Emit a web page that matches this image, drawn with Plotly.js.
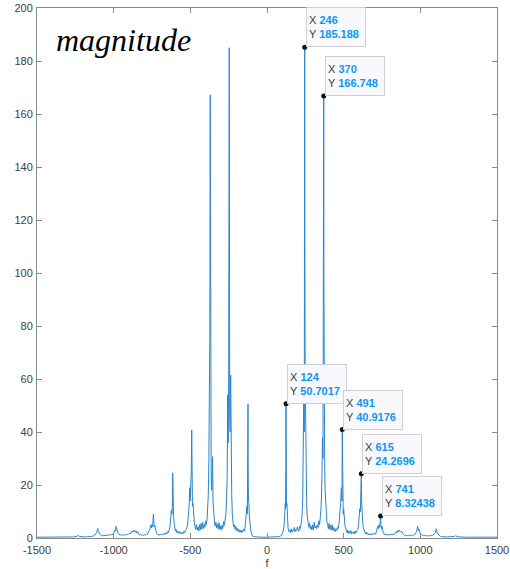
<!DOCTYPE html>
<html>
<head>
<meta charset="utf-8">
<script src="https://cdn.plot.ly/plotly-3.0.1.min.js"></script>
<style>
  html, body { margin: 0; padding: 0; background: #fff; }
  #plot { width: 510px; height: 569px; }
</style>
</head>
<body>
<div id="plot"></div>
<script>
// Two-sided magnitude spectrum |X(f)|, sampled at irregular frequencies
const freqNeg = [
  -1500, -1450, -1400, -1350, -1300, -1280, -1260, -1240, -1235, -1230, -1225, -1215, -1200, -1185,
  -1170, -1160, -1150, -1140, -1132, -1127, -1122, -1118, -1114, -1110, -1107, -1104, -1100, -1095,
  -1090, -1085, -1080, -1075, -1070, -1065, -1060, -1055, -1050, -1045, -1040, -1035, -1030, -1025,
  -1020, -1015, -1010, -1005, -1000, -996, -992, -988, -985, -982, -978, -973, -968, -963,
  -958, -953, -948, -943, -938, -933, -928, -923, -918, -913, -908, -903, -898, -893,
  -888, -883, -878, -873, -868, -863, -858, -853, -848, -843, -838, -833, -828, -823,
  -818, -813, -808, -803, -798, -793, -788, -783, -778, -773, -768, -763, -758, -754,
  -750, -746, -743, -741, -738, -735, -731, -727, -723, -718, -713, -708, -703, -698,
  -693, -688, -683, -678, -673, -668, -663, -658, -653, -648, -643, -638, -633, -628,
  -624, -620, -617, -615, -612, -609, -605, -601, -597, -592, -587, -582, -577, -572,
  -567, -562, -557, -552, -547, -542, -537, -532, -527, -522, -517, -512, -508, -504,
  -500, -497, -494, -491, -489, -486, -482, -478, -474, -470, -465, -460, -455, -450,
  -445, -440, -435, -430, -425, -420, -415, -410, -405, -400, -396, -391, -387, -383,
  -379, -376, -373, -370, -369, -367, -364, -361, -357, -355, -352, -348, -343, -338,
  -333, -328, -323, -318, -313, -308, -303, -298, -293, -288, -283, -278, -273, -268,
  -264, -260, -256, -253, -250, -247, -246, -245, -243, -240, -237, -234, -230, -226,
  -222, -218, -213, -208, -203, -198, -193, -188, -183, -178, -173, -168, -163, -158,
  -153, -148, -143, -139, -135, -131, -128, -126, -124, -123, -121, -118, -115, -111,
  -106, -100, -95, -85, -70, -50, -30, -10
];
const magNeg = [
  0.3, 0.3, 0.3, 0.3, 0.4, 0.3, 0.4, 0.6, 0.8, 1.0, 0.6, 0.5, 0.4, 0.4,
  0.5, 0.4, 0.5, 0.6, 0.8, 1.0, 1.4, 1.2, 2.0, 2.2, 2.8, 3.6, 2.4, 1.8,
  1.4, 1.1, 0.9, 1.0, 0.8, 0.9, 1.0, 0.8, 1.1, 0.9, 1.0, 1.2, 1.0, 1.3,
  1.1, 1.4, 1.2, 1.6, 1.8, 2.2, 3.0, 2.6, 4.4, 3.4, 2.6, 2.0, 1.6, 1.3,
  1.1, 1.3, 1.0, 1.2, 1.0, 1.2, 1.1, 1.3, 1.2, 1.4, 1.3, 1.6, 1.8, 1.5,
  2.0, 2.6, 2.2, 2.8, 2.4, 3.0, 2.2, 2.6, 1.8, 2.4, 1.6, 1.3, 1.1, 1.4,
  1.0, 1.2, 0.9, 1.1, 1.3, 1.0, 1.4, 1.2, 1.6, 2.0, 2.8, 3.6, 4.8, 3.8,
  5.2, 4.2, 6.0, 8.9, 6.5, 4.2, 4.8, 3.0, 2.0, 1.6, 1.2, 1.5, 1.0, 1.4,
  1.1, 1.5, 1.2, 1.6, 1.3, 1.8, 1.4, 2.0, 1.6, 2.4, 2.0, 3.0, 4.2, 7.5,
  10.5, 9.0, 12, 24.6, 13, 8, 5.5, 4.0, 2.6, 3.2, 2.0, 2.6, 1.8, 2.4,
  1.6, 2.2, 1.5, 2.0, 1.7, 2.6, 2.0, 2.8, 3.4, 4.0, 5.5, 8, 12, 19,
  14, 20, 25, 40.8, 22, 12, 13, 8, 6, 4.5, 3.2, 5.0, 3.0, 4.2,
  2.6, 5.0, 3.0, 5.5, 3.4, 6.0, 3.6, 5.2, 4.0, 6.5, 5.0, 7.0, 10, 16,
  30, 45, 76, 167.2, 110, 40, 22, 18, 24, 30.7, 14, 9, 6, 4.5,
  6.0, 3.8, 5.2, 3.4, 5.8, 3.2, 4.6, 3.0, 5.0, 3.6, 6.2, 4.8, 7.0, 9,
  14, 22, 54, 36, 60, 120, 185.0, 130, 45, 40, 61.5, 30, 16, 9,
  6, 4.2, 5.0, 3.2, 4.4, 2.8, 3.6, 2.4, 3.2, 2.2, 3.0, 2.0, 2.8, 2.2,
  3.4, 2.6, 4.0, 6, 9, 12, 9, 22, 50.5, 28, 14, 13, 8, 5,
  3, 1.5, 0.8, 0.5, 0.4, 0.3, 0.3, 0.3
];

const freqPos = [
  0, 20, 40, 60, 80, 95, 105, 112, 116, 119, 121, 123, 124, 125,
  127, 130, 133, 137, 142, 148, 153, 158, 163, 168, 173, 178, 183, 188,
  193, 198, 203, 208, 213, 218, 223, 228, 233, 237, 240, 243, 245, 246,
  247, 249, 252, 255, 259, 263, 268, 273, 278, 283, 288, 293, 298, 303,
  308, 313, 318, 323, 328, 333, 338, 343, 348, 353, 358, 362, 365, 368,
  370, 371, 373, 376, 379, 383, 387, 391, 396, 400, 405, 410, 415, 420,
  425, 430, 435, 440, 445, 450, 455, 460, 465, 470, 475, 480, 485, 489,
  491, 492, 494, 497, 500, 504, 508, 512, 517, 522, 527, 532, 537, 542,
  547, 552, 557, 562, 567, 572, 577, 582, 587, 592, 597, 601, 605, 609,
  612, 615, 617, 620, 624, 628, 633, 638, 643, 648, 653, 658, 663, 668,
  673, 678, 683, 688, 693, 698, 703, 708, 713, 718, 723, 727, 731, 735,
  738, 741, 743, 746, 750, 754, 758, 763, 768, 773, 778, 783, 788, 793,
  798, 803, 808, 813, 818, 823, 828, 833, 838, 843, 848, 853, 858, 863,
  868, 873, 878, 883, 888, 893, 898, 903, 908, 913, 918, 923, 928, 933,
  938, 943, 948, 953, 958, 963, 968, 973, 978, 982, 985, 988, 992, 996,
  1000, 1005, 1010, 1015, 1020, 1025, 1030, 1035, 1040, 1045, 1050, 1055, 1060, 1065,
  1070, 1075, 1080, 1085, 1090, 1095, 1100, 1104, 1107, 1110, 1114, 1118, 1122, 1127,
  1132, 1140, 1150, 1160, 1170, 1180, 1190, 1200, 1210, 1220, 1225, 1230, 1235, 1240,
  1260, 1280, 1300, 1350, 1400, 1450, 1500
];
const magPos = [
  0.3, 0.3, 0.3, 0.4, 0.5, 1.0, 2.5, 5, 9, 13, 11, 30, 50.7017, 28,
  12, 13, 7, 4, 2.5, 3, 2, 3.5, 2.2, 3, 2.6, 4, 2.4, 3.2,
  2.8, 4.2, 3, 2.5, 4.5, 3.6, 5.5, 8, 15, 30, 54, 40, 120, 185.188,
  110, 62, 38, 20, 12, 8, 6, 4, 5.5, 3.5, 4.5, 3, 5, 3.2,
  6, 3.8, 4.5, 3.5, 5, 4, 6.5, 5, 8, 12, 22, 38, 30, 76,
  166.748, 100, 45, 30, 18, 12, 8, 6, 5, 3.5, 5.5, 3.2, 4.8, 3,
  5, 2.8, 4, 3, 2.4, 3.5, 2.8, 4, 3.6, 5.5, 8, 13, 19, 14,
  40.9176, 25, 13, 9, 11, 7, 5, 4, 2.5, 2, 3, 1.6, 2.5, 1.8,
  2.8, 1.5, 2.2, 1.8, 2.4, 1.5, 2.6, 2.0, 2.8, 3.2, 5, 8, 11, 10,
  14, 24.2696, 14, 8, 6, 4, 2.8, 2, 1.5, 2.2, 1.4, 1.8, 1.2, 1.6,
  1.1, 1.5, 1.2, 1.8, 1.3, 1.6, 1.9, 1.4, 2.2, 3, 4.5, 3.5, 5, 4,
  6.5, 8.32438, 5, 3.5, 4.5, 3, 2, 1.5, 1.2, 1.6, 1.1, 1.4, 1.0, 1.3,
  1.2, 1.5, 1.1, 1.4, 1.2, 1.6, 1.2, 1.5, 1.9, 2.4, 2.0, 2.8, 2.3, 3.0,
  2.5, 2.2, 2.6, 1.8, 1.4, 1.2, 0.9, 1.1, 0.8, 1.0, 0.9, 1.1, 0.8, 1.0,
  0.9, 1.1, 0.9, 1.2, 1.0, 1.3, 1.6, 2.2, 3.2, 4.5, 3.8, 2.8, 3.2, 2.0,
  1.6, 1.3, 1.0, 1.2, 0.9, 1.1, 0.8, 1.0, 0.8, 0.9, 0.7, 0.9, 0.8, 1.0,
  0.8, 0.9, 1.0, 1.2, 1.5, 1.8, 2.2, 3.5, 2.5, 1.8, 2.0, 1.3, 1.0, 0.8,
  0.6, 0.5, 0.4, 0.4, 0.4, 0.4, 0.4, 0.4, 0.4, 0.4, 0.6, 0.9, 0.6, 0.5,
  0.4, 0.3, 0.3, 0.3, 0.3, 0.3, 0.3
];

// Frequencies where data tips are pinned
const tipFreqs = [124, 246, 370, 491, 615, 741];

const xTicks = [-1500, -1000, -500, 0, 500, 1000, 1500];
const yTicks = [0, 20, 40, 60, 80, 100, 120, 140, 160, 180, 200];

const f = freqNeg.concat(freqPos);
const mag = magNeg.concat(magPos);

const tipX = tipFreqs;
const tipY = tipFreqs.map(t => magPos[freqPos.indexOf(t)]);

const fmt = v => String(Number(v.toPrecision(6)));
const valStyle = 'color:#0b97f4';
const tipAnnotations = tipX.map((x, i) => ({
  x: x, y: tipY[i], xref: 'x', yref: 'y',
  xanchor: 'left', yanchor: 'bottom', xshift: 1, yshift: 0,
  showarrow: false, align: 'left', valign: 'middle',
  width: 54, height: 34,
  text: 'X <b><span style="' + valStyle + '">' + fmt(x) + '</span></b><br>' +
        'Y <b><span style="' + valStyle + '">' + fmt(tipY[i]) + '</span></b>',
  font: { family: 'Liberation Sans, Arial, sans-serif', size: 11, color: '#3c3c3c' },
  bgcolor: 'rgba(249,249,253,0.97)', bordercolor: '#cfcfd4', borderwidth: 1, borderpad: 2
}));

const axisCommon = {
  showgrid: false, zeroline: false,
  showline: true, mirror: 'ticks', linecolor: '#8a8a8a', linewidth: 1,
  ticks: 'inside', ticklen: 5, tickcolor: '#8a8a8a', tickwidth: 1,
  tickfont: { family: 'Liberation Sans, Arial, sans-serif', size: 11, color: '#404040' }
};

const data = [
  {
    x: f, y: mag, type: 'scatter', mode: 'lines',
    line: { color: '#2a86cc', width: 1 },
    hoverinfo: 'x+y'
  },
  {
    x: tipX, y: tipY, type: 'scatter', mode: 'markers',
    marker: { color: '#111', size: 5 },
    hoverinfo: 'skip'
  }
];

const layout = {
  width: 510, height: 569,
  margin: { l: 37, r: 13, t: 8, b: 31 },
  paper_bgcolor: '#fff', plot_bgcolor: '#fff',
  showlegend: false,
  xaxis: Object.assign({}, axisCommon, {
    range: [-1500, 1500], tickvals: xTicks, ticktext: xTicks.map(String),
    ticklabelstandoff: 2,
    title: { text: 'f', standoff: 6, font: { family: 'Liberation Sans, Arial, sans-serif', size: 11, color: '#404040' } },
    automargin: false
  }),
  yaxis: Object.assign({}, axisCommon, {
    range: [0, 200], tickvals: yTicks, ticktext: yTicks.map(String),
    ticklabelstandoff: 1,
    automargin: false
  }),
  annotations: [
    {
      text: '<i>magnitude</i>', xref: 'paper', yref: 'paper',
      x: 0.037, y: 0.94, xanchor: 'left', yanchor: 'middle', showarrow: false,
      font: { family: 'Liberation Serif, Times New Roman, serif', size: 32, color: '#000' }
    }
  ].concat(tipAnnotations)
};

Plotly.newPlot('plot', data, layout, { displayModeBar: false, staticPlot: true });
</script>
</body>
</html>
